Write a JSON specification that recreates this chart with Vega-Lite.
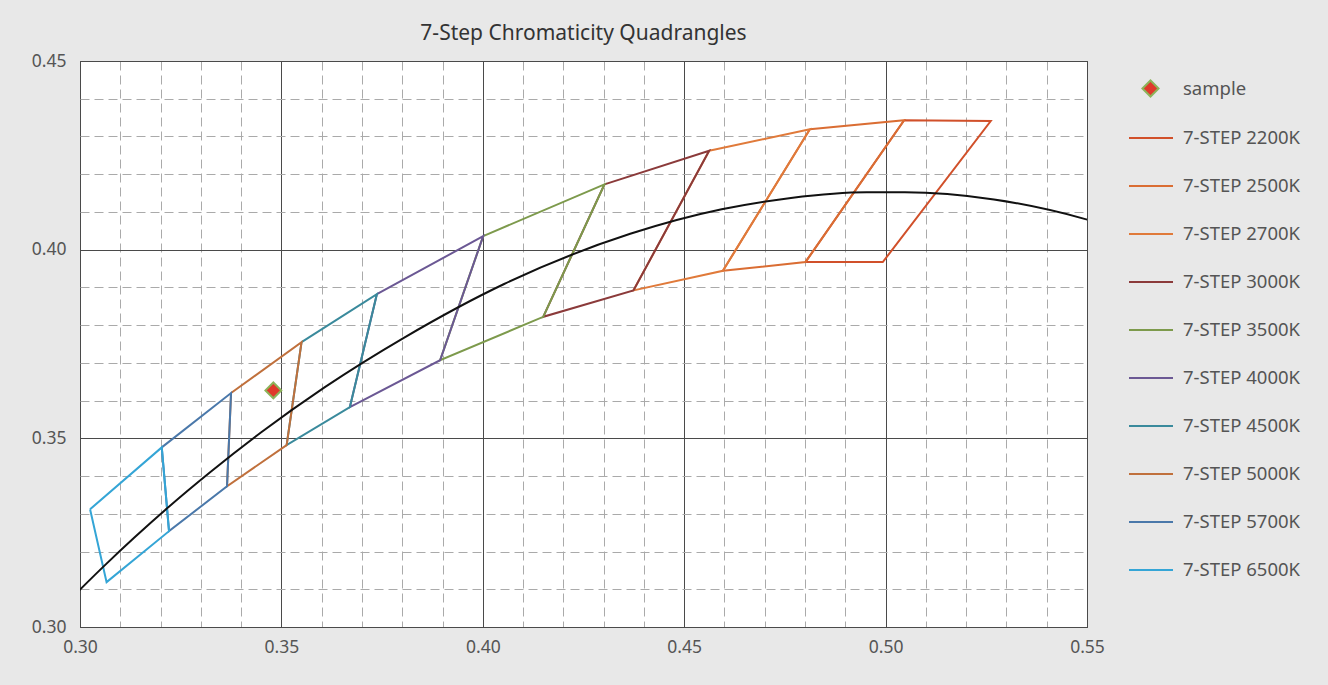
{
  "$schema": "https://vega.github.io/schema/vega-lite/v6.json",
  "width": 1007,
  "height": 566,
  "autosize": {"type": "none"},
  "padding": {"left": 80, "top": 61, "right": 241, "bottom": 58},
  "background": "#e8e8e8",
  "title": {"text": "7-Step Chromaticity Quadrangles", "fontSize": 21, "fontWeight": "normal", "color": "#333333", "font": "Noto Sans", "offset": 8, "anchor": "middle"},
  "config": {
    "view": {"fill": "white", "stroke": "#333333", "strokeWidth": 1},
    "font": "Noto Sans",
    "legend": {"padding": 0, "labelFontSize": 18.5, "labelColor": "#555555", "labelFont": "Noto Sans", "title": null}
  },
  "datasets": {
    "sample": [{"series": "sample", "x": 0.348, "y": 0.3627}],
    "quads": [
      {"series": "7-STEP 2200K", "i": 0, "x": 0.5046, "y": 0.4343},
      {"series": "7-STEP 2200K", "i": 1, "x": 0.5261, "y": 0.4341},
      {"series": "7-STEP 2200K", "i": 2, "x": 0.4993, "y": 0.3967},
      {"series": "7-STEP 2200K", "i": 3, "x": 0.4801, "y": 0.3967},
      {"series": "7-STEP 2200K", "i": 4, "x": 0.5046, "y": 0.4343},
      {"series": "7-STEP 2500K", "i": 0, "x": 0.4812, "y": 0.4319},
      {"series": "7-STEP 2500K", "i": 1, "x": 0.5046, "y": 0.4343},
      {"series": "7-STEP 2500K", "i": 2, "x": 0.4801, "y": 0.3967},
      {"series": "7-STEP 2500K", "i": 3, "x": 0.4596, "y": 0.3944},
      {"series": "7-STEP 2500K", "i": 4, "x": 0.4812, "y": 0.4319},
      {"series": "7-STEP 2700K", "i": 0, "x": 0.4562, "y": 0.4262},
      {"series": "7-STEP 2700K", "i": 1, "x": 0.4812, "y": 0.4319},
      {"series": "7-STEP 2700K", "i": 2, "x": 0.4596, "y": 0.3944},
      {"series": "7-STEP 2700K", "i": 3, "x": 0.4374, "y": 0.3892},
      {"series": "7-STEP 2700K", "i": 4, "x": 0.4562, "y": 0.4262},
      {"series": "7-STEP 3000K", "i": 0, "x": 0.4302, "y": 0.4173},
      {"series": "7-STEP 3000K", "i": 1, "x": 0.4562, "y": 0.4262},
      {"series": "7-STEP 3000K", "i": 2, "x": 0.4374, "y": 0.3892},
      {"series": "7-STEP 3000K", "i": 3, "x": 0.4150, "y": 0.3822},
      {"series": "7-STEP 3000K", "i": 4, "x": 0.4302, "y": 0.4173},
      {"series": "7-STEP 3500K", "i": 0, "x": 0.4001, "y": 0.4036},
      {"series": "7-STEP 3500K", "i": 1, "x": 0.4302, "y": 0.4173},
      {"series": "7-STEP 3500K", "i": 2, "x": 0.4150, "y": 0.3822},
      {"series": "7-STEP 3500K", "i": 3, "x": 0.3894, "y": 0.3707},
      {"series": "7-STEP 3500K", "i": 4, "x": 0.4001, "y": 0.4036},
      {"series": "7-STEP 4000K", "i": 0, "x": 0.3737, "y": 0.3882},
      {"series": "7-STEP 4000K", "i": 1, "x": 0.4001, "y": 0.4036},
      {"series": "7-STEP 4000K", "i": 2, "x": 0.3894, "y": 0.3707},
      {"series": "7-STEP 4000K", "i": 3, "x": 0.3670, "y": 0.3583},
      {"series": "7-STEP 4000K", "i": 4, "x": 0.3737, "y": 0.3882},
      {"series": "7-STEP 4500K", "i": 0, "x": 0.3550, "y": 0.3755},
      {"series": "7-STEP 4500K", "i": 1, "x": 0.3737, "y": 0.3882},
      {"series": "7-STEP 4500K", "i": 2, "x": 0.3670, "y": 0.3583},
      {"series": "7-STEP 4500K", "i": 3, "x": 0.3513, "y": 0.3482},
      {"series": "7-STEP 4500K", "i": 4, "x": 0.3550, "y": 0.3755},
      {"series": "7-STEP 5000K", "i": 0, "x": 0.3375, "y": 0.3620},
      {"series": "7-STEP 5000K", "i": 1, "x": 0.3550, "y": 0.3755},
      {"series": "7-STEP 5000K", "i": 2, "x": 0.3513, "y": 0.3482},
      {"series": "7-STEP 5000K", "i": 3, "x": 0.3365, "y": 0.3373},
      {"series": "7-STEP 5000K", "i": 4, "x": 0.3375, "y": 0.3620},
      {"series": "7-STEP 5700K", "i": 0, "x": 0.3203, "y": 0.3476},
      {"series": "7-STEP 5700K", "i": 1, "x": 0.3375, "y": 0.3620},
      {"series": "7-STEP 5700K", "i": 2, "x": 0.3365, "y": 0.3373},
      {"series": "7-STEP 5700K", "i": 3, "x": 0.3221, "y": 0.3254},
      {"series": "7-STEP 5700K", "i": 4, "x": 0.3203, "y": 0.3476},
      {"series": "7-STEP 6500K", "i": 0, "x": 0.3025, "y": 0.3312},
      {"series": "7-STEP 6500K", "i": 1, "x": 0.3203, "y": 0.3476},
      {"series": "7-STEP 6500K", "i": 2, "x": 0.3221, "y": 0.3254},
      {"series": "7-STEP 6500K", "i": 3, "x": 0.3066, "y": 0.3119},
      {"series": "7-STEP 6500K", "i": 4, "x": 0.3025, "y": 0.3312}
    ],
    "planck": [
      {"T": 8000, "x": 0.2952, "y": 0.3048},
      {"T": 7000, "x": 0.3064, "y": 0.3166},
      {"T": 6500, "x": 0.3135, "y": 0.3237},
      {"T": 6000, "x": 0.3220, "y": 0.3318},
      {"T": 5500, "x": 0.3323, "y": 0.3410},
      {"T": 5000, "x": 0.3450, "y": 0.3516},
      {"T": 4500, "x": 0.3607, "y": 0.3635},
      {"T": 4000, "x": 0.3805, "y": 0.3767},
      {"T": 3500, "x": 0.4053, "y": 0.3909},
      {"T": 3000, "x": 0.4366, "y": 0.4042},
      {"T": 2700, "x": 0.4593, "y": 0.4107},
      {"T": 2500, "x": 0.4765, "y": 0.4137},
      {"T": 2300, "x": 0.4953, "y": 0.4152},
      {"T": 2200, "x": 0.5048, "y": 0.4152},
      {"T": 2000, "x": 0.5269, "y": 0.4133},
      {"T": 1800, "x": 0.5496, "y": 0.4081},
      {"T": 1750, "x": 0.5553, "y": 0.4063}
    ]
  },
  "layer": [
    {
      "data": {"name": "sample"},
      "mark": {"type": "point", "shape": "diamond", "filled": true, "size": 250, "stroke": "#8db35a", "strokeWidth": 2, "opacity": 1},
      "encoding": {
        "x": {"field": "x", "type": "quantitative", "scale": {"domain": [0.30, 0.55], "nice": false, "zero": false},
          "axis": {"title": null, "tickCount": 40, "values": [0.30,0.31,0.32,0.33,0.34,0.35,0.36,0.37,0.38,0.39,0.40,0.41,0.42,0.43,0.44,0.45,0.46,0.47,0.48,0.49,0.50,0.51,0.52,0.53,0.54,0.55],
            "labelExpr": "abs(datum.value*20 - round(datum.value*20)) < 0.000001 ? format(datum.value, '.2f') : ''",
            "ticks": false, "domain": false, "labelFlush": false, "labelOverlap": false, "labelFontSize": 17.5, "labelColor": "#555555", "labelPadding": 11, "labelFont": "Noto Sans",
            "gridColor": {"condition": {"test": "abs(datum.value*20 - round(datum.value*20)) < 0.000001", "value": "#4a4a4a"}, "value": "#aaaaaa"},
            "gridDash": {"condition": {"test": "abs(datum.value*20 - round(datum.value*20)) < 0.000001", "value": []}, "value": [9, 5]},
            "gridOpacity": 1}},
        "y": {"field": "y", "type": "quantitative", "scale": {"domain": [0.30, 0.45], "nice": false, "zero": false},
          "axis": {"title": null, "tickCount": 40, "values": [0.30,0.31,0.32,0.33,0.34,0.35,0.36,0.37,0.38,0.39,0.40,0.41,0.42,0.43,0.44,0.45],
            "labelExpr": "abs(datum.value*20 - round(datum.value*20)) < 0.000001 ? format(datum.value, '.2f') : ''",
            "ticks": false, "domain": false, "labelFlush": false, "labelOverlap": false, "labelFontSize": 17.5, "labelColor": "#555555", "labelPadding": 14, "labelFont": "Noto Sans",
            "gridColor": {"condition": {"test": "abs(datum.value*20 - round(datum.value*20)) < 0.000001", "value": "#4a4a4a"}, "value": "#aaaaaa"},
            "gridDash": {"condition": {"test": "abs(datum.value*20 - round(datum.value*20)) < 0.000001", "value": []}, "value": [9, 5]},
            "gridOpacity": 1}},
        "color": {"field": "series", "type": "nominal", "scale": {"domain": ["sample"], "range": ["#e0392b"]},
          "legend": {"orient": "none", "legendX": 1048, "legendY": 18, "symbolType": "diamond", "symbolSize": 260, "symbolStrokeColor": "#8db35a", "symbolStrokeWidth": 2, "symbolOffset": 13, "labelOffset": 23}}
      }
    },
    {
      "data": {"name": "quads"},
      "mark": {"type": "line", "strokeWidth": 2},
      "encoding": {
        "x": {"field": "x", "type": "quantitative"},
        "y": {"field": "y", "type": "quantitative"},
        "stroke": {"field": "series", "type": "nominal",
          "scale": {"domain": ["7-STEP 2200K","7-STEP 2500K","7-STEP 2700K","7-STEP 3000K","7-STEP 3500K","7-STEP 4000K","7-STEP 4500K","7-STEP 5000K","7-STEP 5700K","7-STEP 6500K"],
            "range": ["#d1502a","#da6d33","#e07a3a","#8b3a3a","#7d9a4c","#6b5894","#3a8a9c","#c0703c","#4a78aa","#34a5d6"]},
          "legend": {"orient": "none", "legendX": 1048, "legendY": 54, "symbolType": "stroke", "symbolSize": 1936, "symbolStrokeWidth": 2, "rowPadding": 15, "labelOffset": 9}},
        "order": {"field": "i", "type": "quantitative"}
      }
    },
    {
      "data": {"name": "planck"},
      "mark": {"type": "line", "color": "#111111", "strokeWidth": 2, "interpolate": "monotone", "clip": true},
      "encoding": {
        "x": {"field": "x", "type": "quantitative"},
        "y": {"field": "y", "type": "quantitative"},
        "order": {"field": "x", "type": "quantitative"}
      }
    }
  ]
}
